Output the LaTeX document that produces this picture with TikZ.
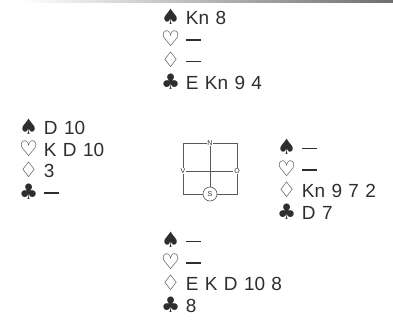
\documentclass[tikz,border=0pt]{standalone}
\usepackage{fontspec}
\setmainfont[WordSpace=1.2]{Liberation Sans}
\newfontfamily\suitfont[Scale=1.12]{DejaVu Sans}
\usepackage{tikz}
\usetikzlibrary{positioning}
\definecolor{Ink}{HTML}{2E2E2E}
\definecolor{Rule}{HTML}{6E6E6E}

\newcommand{\spd}{{\suitfont\char"2660}\hspace{0.3em}}
\newcommand{\hrt}{{\suitfont\char"2661}\hspace{0.3em}}
\newcommand{\dia}{{\suitfont\char"2662}\hspace{0.3em}}
\newcommand{\clb}{{\suitfont\char"2663}\hspace{0.3em}}
\newcommand{\void}{\rule[0.3em]{0.8em}{0.06em}}

\begin{document}
\begin{tikzpicture}[
  x=1pt, y=-1pt,
  hand/.style={anchor=north west, align=left, inner sep=0pt, text=Ink,
    font=\fontsize{19}{21.5}\selectfont},
  wind/.style={font=\fontsize{7}{7}\selectfont, fill=white, inner sep=0.8pt, text=Ink},
  frame/.style={draw=Ink!80, line width=0.6pt}
]
\useasboundingbox (0,0) rectangle (393,323);
\shade[left color=white, right color=Rule] (20,0.5) rectangle (393,3);

% hands
\node[hand] (north) at (161,9) {\spd Kn 8\\\hrt\void\\\dia\void\\\clb E Kn 9 4};
\node[hand] (west) at (19,119) {\spd D 10\\\hrt K D 10\\\dia 3\\\clb\void};
\node[hand] (east) at (277,139) {\spd\void\\\hrt\void\\\dia Kn 9 7 2\\\clb D 7};
\node[hand] (south) at (161,232) {\spd\void\\\hrt\void\\\dia E K D 10 8\\\clb 8};

% compass
\draw[frame] (183,143) rectangle (237,194);
\node[wind] (N) at (210,143) {N};
\node[wind] (V) at (183,171) {V};
\node[wind] (O) at (237,171) {O};
\node[wind, draw=Ink!80, circle, line width=0.6pt, minimum size=14pt, inner sep=0pt] (S) at (210,194) {S};
\draw[frame] (N) -- (S);
\draw[frame] (V) -- (O);
\end{tikzpicture}
\end{document}
